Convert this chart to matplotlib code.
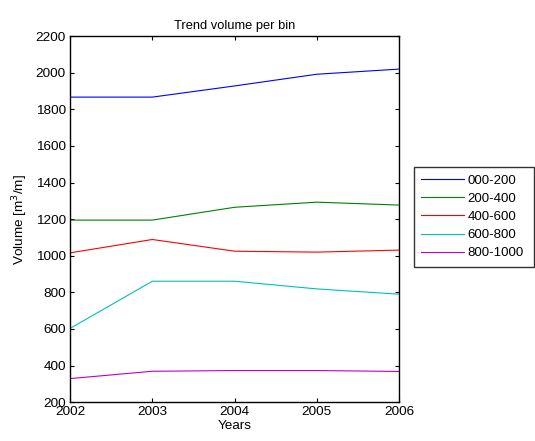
import matplotlib
matplotlib.use("Agg")
import matplotlib.pyplot as plt

plt.rcParams['font.family'] = ['Liberation Sans', 'DejaVu Sans']

years = [2002, 2003, 2004, 2005, 2006]
bins = ['000-200', '200-400', '400-600', '600-800', '800-1000']
vol_000_200 = [1867, 1867, 1928, 1992, 2020]
vol_200_400 = [1195, 1195, 1265, 1293, 1277]
vol_400_600 = [1016, 1089, 1025, 1020, 1031]
vol_600_800 = [603, 861, 861, 819, 790]
vol_800_1000 = [329, 369, 373, 373, 368]
colors = ['#0000ff', '#008000', '#ff0000', '#00bfbf', '#bf00bf']

fig = plt.figure(figsize=(5.35, 4.41), dpi=100)
ax = fig.add_axes([0.131, 0.088, 0.615, 0.830])

series = [vol_000_200, vol_200_400, vol_400_600, vol_600_800, vol_800_1000]
for vals, lab, c in zip(series, bins, colors):
    ax.plot(years, vals, color=c, linewidth=0.8, label=lab)

ax.set_xlim(2002, 2006)
ax.set_ylim(200, 2200)
ax.set_xticks(years)
ax.set_yticks(range(200, 2201, 200))
ax.tick_params(direction='in', top=True, right=True, labelsize=9.7, length=3, width=0.8, pad=3)
for s in ax.spines.values():
    s.set_linewidth(1.0)

ax.set_title('Trend volume per bin', fontsize=9.3, pad=5)
ax.set_xlabel('Years', fontsize=9.7, labelpad=1)
ax.set_ylabel('Volume [m$^3$/m]', fontsize=9.7, labelpad=4)

# legend box roughly x 414-534, y 167-272 px
leg = fig.legend(loc='upper left', bbox_to_anchor=(0.774, 0.30, 0.224, 0.321),
                 mode='expand', fontsize=9.5, frameon=True, fancybox=False,
                 handlelength=3.2, handletextpad=0.3, borderaxespad=0,
                 labelspacing=0.45, borderpad=0.55)
leg.get_frame().set_edgecolor('black')
leg.get_frame().set_linewidth(1.0)

fig.savefig('out.png', dpi=100)
